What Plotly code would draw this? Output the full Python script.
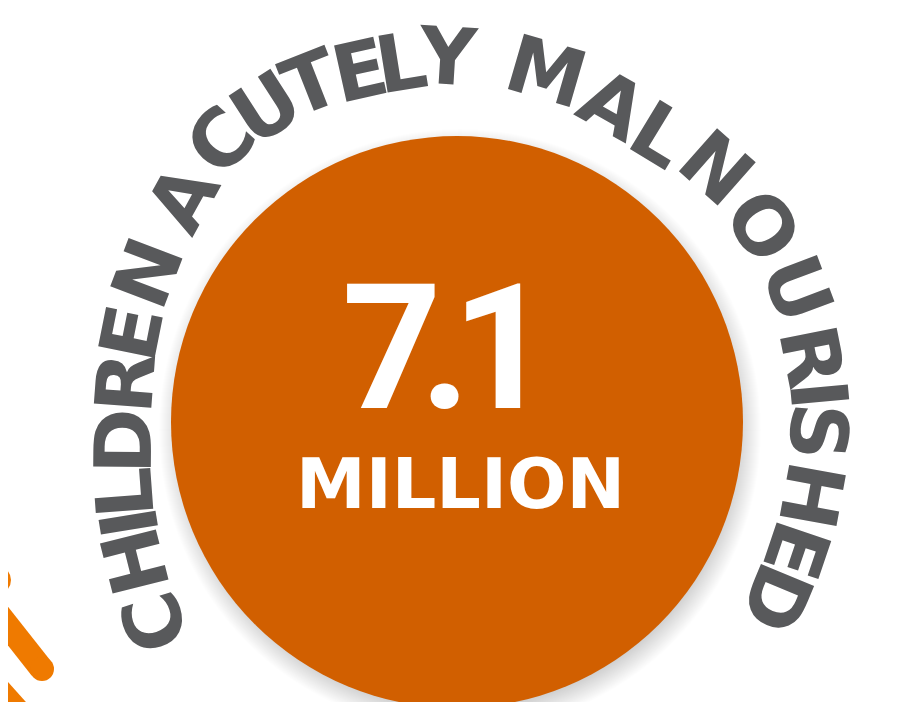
import numpy as np
import plotly.graph_objects as go

# ---- data ----
value_text = "7.1"
unit_text = "MILLION"
label_words = ["CHILDREN", "ACUTELY", "MALNOURISHED"]

# ---- layout constants (letter centres along the curved label, in pixels) ----
LETTER_XY = [
    (147, 614), (128, 553), (122, 515), (117, 485), (116, 433), (118, 375), (124, 325), (140, 265),  # CHILDREN
    (175, 191), (213, 133), (258, 100), (303, 75), (352, 63), (393, 55), (439, 49),  # ACUTELY
    (538, 64), (604, 97), (651, 127), (708, 160), (754, 218), (789, 281), (803, 348),
    (810, 386), (810, 423), (803, 487), (788, 542), (768, 590),  # MALNOURISHED
]
VALUE_X = [384, 437, 494]   # x centres of the big value's characters

W, H = 901, 702
CX, CY, R = 449, 414, 286
ORANGE = "#D15F00"
GREY = "#58595B"
ICON = "#EF7A00"
FONT = "DejaVu Sans"

fig = go.Figure()
fig.add_trace(go.Scatter(x=[0, W], y=[0, H], mode="markers", marker=dict(opacity=0), hoverinfo="skip"))

shapes = []
# soft shadow (mostly downward)
for k in range(24):
    rr = R - 8 + 1.0 * k
    ox, oy = CX + 3, CY + 8
    shapes.append(dict(type="circle", xref="x", yref="y", x0=ox - rr, x1=ox + rr, y0=oy - rr, y1=oy + rr,
                       fillcolor="rgba(0,0,0,0.009)", line=dict(width=0), layer="below"))
shapes.append(dict(type="circle", xref="x", yref="y", x0=CX - R, x1=CX + R, y0=CY - R, y1=CY + R,
                   fillcolor=ORANGE, line=dict(width=0), layer="below"))
# partial orange icon at left edge
shapes.append(dict(type="circle", xref="x", yref="y", x0=-24, x1=3, y0=558, y1=586,
                   fillcolor=ICON, line=dict(width=0)))
shapes.append(dict(type="line", xref="x", yref="y", x0=-12, y0=603, x1=33, y1=660,
                   line=dict(color=ICON, width=24)))
shapes.append(dict(type="circle", xref="x", yref="y", x0=22, x1=46, y0=649, y1=673,
                   fillcolor=ICON, line=dict(width=0)))
shapes.append(dict(type="line", xref="x", yref="y", x0=-14, y0=675, x1=22, y1=715,
                   line=dict(color=ICON, width=22)))

annotations = []
letters = [c for c in "".join(label_words)]
pts = np.array(LETTER_XY, dtype=float)
n = len(pts)
for i, ch in enumerate(letters):
    a = pts[max(i - 1, 0)]
    b = pts[min(i + 1, n - 1)]
    ang = np.degrees(np.arctan2(b[1] - a[1], b[0] - a[0]))
    annotations.append(dict(x=pts[i][0], y=pts[i][1], xref="x", yref="y", text=ch, showarrow=False,
                            textangle=float(ang), xanchor="center", yanchor="middle",
                            font=dict(family=FONT, size=79, color=GREY, weight="bold")))

for ch, xc in zip(value_text, VALUE_X):
    annotations.append(dict(x=xc, y=340, xref="x", yref="y", text=ch, showarrow=False,
                            xanchor="center", yanchor="middle",
                            font=dict(family="Roboto", size=174, color="white", weight="bold")))
annotations.append(dict(x=452, y=476, xref="x", yref="y", text=unit_text, showarrow=False,
                        xanchor="center", yanchor="middle",
                        font=dict(family=FONT, size=70, color="white", weight="bold")))

fig.update_layout(
    width=W, height=H, margin=dict(l=0, r=0, t=0, b=0),
    paper_bgcolor="white", plot_bgcolor="white", showlegend=False,
    xaxis=dict(range=[0, W], visible=False, fixedrange=True),
    yaxis=dict(range=[H, 0], visible=False, fixedrange=True),
    shapes=shapes, annotations=annotations,
)
fig.write_html("out.html", config={"displayModeBar": False})
